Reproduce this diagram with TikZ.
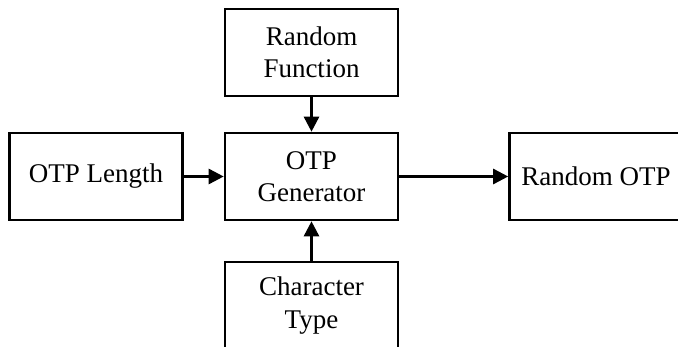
\documentclass[tikz,border=0pt]{standalone}
\usepackage{fontspec}
\setmainfont{Liberation Serif}
\usetikzlibrary{arrows.meta}
\tikzset{
  blockbox/.style={draw, line width=2.6pt, minimum width=173pt, minimum height=87pt,
    align=center, inner sep=2pt, font=\fontsize{27}{32.4}\selectfont},
  flowarrow/.style={line width=2.6pt, -{Triangle[length=15pt,width=15pt]}}
}
\begin{document}
\begin{tikzpicture}[x=1pt,y=-1pt]
\useasboundingbox (0,0) rectangle (678,347);
\clip (0,0) rectangle (678,347);
\fill[white] (0,0) rectangle (678,347);
\node[blockbox] (rf) at (311.5,52.5) {Random\\Function};
\node[blockbox] (gen) at (311.5,176.5) {OTP\\Generator};
\node[blockbox] (len) at (96,176.5) {OTP Length};
\node[blockbox] (out) at (596,176.5) {Random OTP};
\node[blockbox] (ct) at (311.5,305.5) {Character\\Type};
\draw[flowarrow] (rf) -- (gen);
\draw[flowarrow] (len) -- (gen);
\draw[flowarrow] (gen) -- (out);
\draw[flowarrow] (ct) -- (gen);
\end{tikzpicture}
\end{document}
